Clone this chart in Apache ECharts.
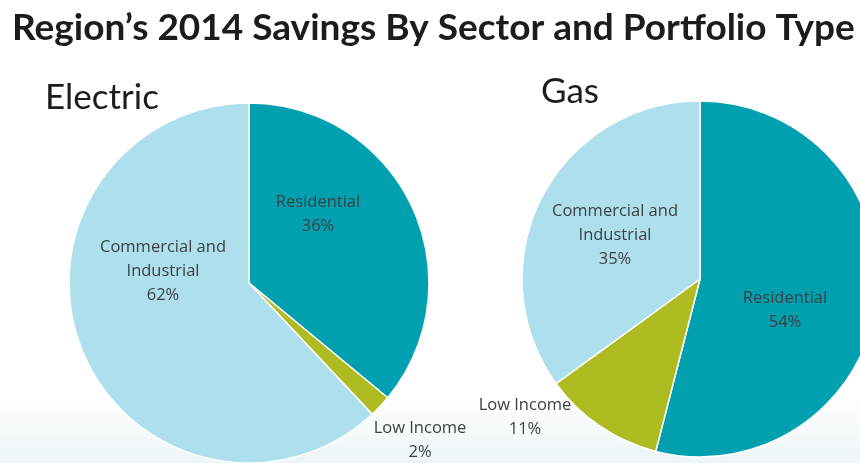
<!DOCTYPE html>
<html><head><meta charset="utf-8">
<script src="https://cdn.jsdelivr.net/npm/echarts@6/dist/echarts.min.js"></script>
<style>html,body{margin:0;padding:0;background:#fff}#c{width:860px;height:463px}</style>
</head><body><div id="c"></div>
<script>
const titleText = "Region\u2019s 2014 Savings By Sector and Portfolio Type";
const sectors = ["Residential", "Low Income", "Commercial and\nIndustrial"];
const electricValues = [36, 2, 62];
const gasValues = [54, 11, 35];
const sectorColors = ["#00A0B0", "#AEBC21", "#ADDFEC"];

// label placement (center of each label block)
const electricLabelPos = [[318, 214], [420, 440], [163, 271]];
const gasLabelPos = [[785, 310], [525, 417], [615, 235]];

const chart = echarts.init(document.getElementById('c'));
function mkData(vals){
  return vals.map((v,i)=>({name: sectors[i], value: v, itemStyle:{color: sectorColors[i]}}));
}
const labelStyle = {show: true, position: 'inside', formatter: p => p.name + '\n' + p.value + '%',
  fontFamily: 'Open Sans', fontSize: 16.5, color: '#3c4144', lineHeight: 24, align: 'center'};
chart.setOption({
  backgroundColor: '#ffffff',
  animation: false,
  graphic: [{type:'rect', z:-10, silent:true, shape:{x:0, y:390, width:860, height:73},
    style:{fill:{type:'linear', x:0, y:0, x2:0, y2:1, colorStops:[{offset:0, color:'rgba(240,247,250,0)'},{offset:1, color:'rgba(236,245,249,1)'}]}}}],
  title: [
    {text: titleText, left: 7, top: 5, textStyle:{fontFamily:'Lato', fontWeight:'bold', fontSize:37, color:'#1c1c1c'}},
    {text: 'Electric', left: 40, top: 75, textStyle:{fontFamily:'Lato', fontWeight:'normal', fontSize:35, color:'#1c1c1c'}},
    {text: 'Gas', left: 536, top: 69, textStyle:{fontFamily:'Lato', fontWeight:'normal', fontSize:35, color:'#1c1c1c'}}
  ],
  series: [
    {type:'pie', center:[249,283], radius:180, startAngle:90, clockwise:true,
     itemStyle:{borderColor:'#fff', borderWidth:1.5}, label: labelStyle, labelLine:{show:false},
     data: mkData(electricValues),
     labelLayout: p => ({x: electricLabelPos[p.dataIndex][0], y: electricLabelPos[p.dataIndex][1], align:'center', verticalAlign:'middle'})},
    {type:'pie', center:[700,279], radius:178, startAngle:90, clockwise:true,
     itemStyle:{borderColor:'#fff', borderWidth:1.5}, label: labelStyle, labelLine:{show:false},
     data: mkData(gasValues),
     labelLayout: p => ({x: gasLabelPos[p.dataIndex][0], y: gasLabelPos[p.dataIndex][1], align:'center', verticalAlign:'middle'})}
  ]
});
</script></body></html>
